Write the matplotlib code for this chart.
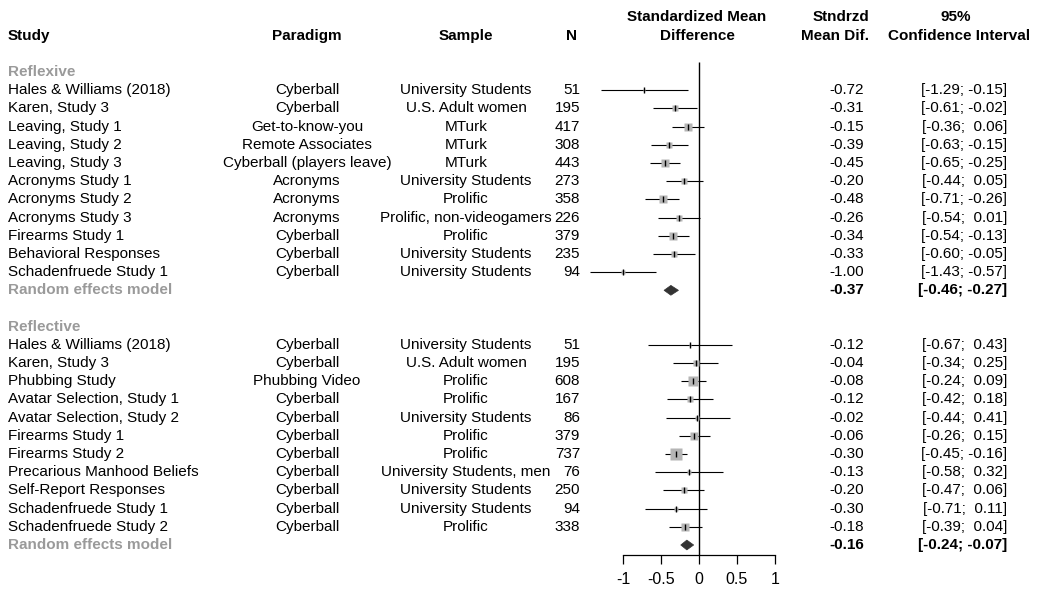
import numpy as np
import matplotlib.pyplot as plt
from matplotlib.transforms import blended_transform_factory
from matplotlib.patches import Polygon

plt.rcParams['font.family'] = ['Liberation Sans', 'DejaVu Sans']

# reflexive group
rx_study = ["Hales & Williams (2018)", "Karen, Study 3", "Leaving, Study 1", "Leaving, Study 2",
            "Leaving, Study 3", "Acronyms Study 1", "Acronyms Study 2", "Acronyms Study 3",
            "Firearms Study 1", "Behavioral Responses", "Schadenfruede Study 1"]
rx_paradigm = ["Cyberball", "Cyberball", "Get-to-know-you", "Remote Associates",
               "Cyberball (players leave)", "Acronyms", "Acronyms", "Acronyms",
               "Cyberball", "Cyberball", "Cyberball"]
rx_sample = ["University Students", "U.S. Adult women", "MTurk", "MTurk", "MTurk",
             "University Students", "Prolific", "Prolific, non-videogamers", "Prolific",
             "University Students", "University Students"]
rx_n = [51, 195, 417, 308, 443, 273, 358, 226, 379, 235, 94]
rx_smd = [-0.72, -0.31, -0.15, -0.39, -0.45, -0.20, -0.48, -0.26, -0.34, -0.33, -1.00]
rx_lo = [-1.29, -0.61, -0.36, -0.63, -0.65, -0.44, -0.71, -0.54, -0.54, -0.60, -1.43]
rx_hi = [-0.15, -0.02, 0.06, -0.15, -0.25, 0.05, -0.26, 0.01, -0.13, -0.05, -0.57]
rx_re = (-0.37, -0.46, -0.27)

# reflective group
rf_study = ["Hales & Williams (2018)", "Karen, Study 3", "Phubbing Study", "Avatar Selection, Study 1",
            "Avatar Selection, Study 2", "Firearms Study 1", "Firearms Study 2",
            "Precarious Manhood Beliefs", "Self-Report Responses", "Schadenfruede Study 1",
            "Schadenfruede Study 2"]
rf_paradigm = ["Cyberball", "Cyberball", "Phubbing Video", "Cyberball", "Cyberball", "Cyberball",
               "Cyberball", "Cyberball", "Cyberball", "Cyberball", "Cyberball"]
rf_sample = ["University Students", "U.S. Adult women", "Prolific", "Prolific", "University Students",
             "Prolific", "Prolific", "University Students, men", "University Students",
             "University Students", "Prolific"]
rf_n = [51, 195, 608, 167, 86, 379, 737, 76, 250, 94, 338]
rf_smd = [-0.12, -0.04, -0.08, -0.12, -0.02, -0.06, -0.30, -0.13, -0.20, -0.30, -0.18]
rf_lo = [-0.67, -0.34, -0.24, -0.42, -0.44, -0.26, -0.45, -0.58, -0.47, -0.71, -0.39]
rf_hi = [0.43, 0.25, 0.09, 0.18, 0.41, 0.15, -0.16, 0.32, 0.06, 0.11, 0.04]
rf_re = (-0.16, -0.24, -0.07)

ticks = [-1, -0.5, 0, 0.5, 1]
tick_labels = ["-1", "-0.5", "0", "0.5", "1"]

W, H = 1037, 592
fig = plt.figure(figsize=(W / 100, H / 100), dpi=100)
ax = fig.add_axes([0, (H - 555) / H, 1, 555 / H])
ax.set_xlim(-699 / 76, (W - 699) / 76)
ax.set_ylim(26.55, -3.96)
for s in ['top', 'left', 'right']:
    ax.spines[s].set_visible(False)
ax.spines['bottom'].set_bounds(-1, 1)
ax.spines['bottom'].set_linewidth(0.9)
ax.set_yticks([])
ax.set_xticks(ticks)
ax.set_xticklabels(tick_labels, fontsize=11.5)
ax.tick_params(axis='x', length=6.5, width=0.9, pad=6)

tr = blended_transform_factory(ax.transAxes, ax.transData)
fs = 11
grey = '#9a9a9a'


def col(px):
    return px / W


# headers
hdr = dict(transform=tr, fontsize=fs, fontweight='bold', va='center')
ax.text(col(8), -2, "Study", ha='left', **hdr)
ax.text(col(307), -2, "Paradigm", ha='center', **hdr)
ax.text(col(466), -2, "Sample", ha='center', **hdr)
ax.text(col(577), -2, "N", ha='right', **hdr)
ax.text(col(697), -3, "Standardized Mean", ha='center', **hdr)
ax.text(col(697), -2, "Difference", ha='center', **hdr)
ax.text(col(869), -3, "Stndrzd", ha='right', **hdr)
ax.text(col(869), -2, "Mean Dif.", ha='right', **hdr)
ax.text(col(956), -3, "95%", ha='center', **hdr)
ax.text(col(959), -2, "Confidence Interval", ha='center', **hdr)

ax.vlines(0, -0.55, 26.55, color='black', lw=1.0, zorder=1)

all_lo = np.array(rx_lo + rf_lo)
all_hi = np.array(rx_hi + rf_hi)
w_all = 1 / ((all_hi - all_lo) / 3.92) ** 2
w_max = w_all.max()


def group(y0, name, study, paradigm, sample, n, smd, lo, hi, re):
    ax.text(col(8), y0, name, transform=tr, fontsize=fs, fontweight='bold', color=grey,
            va='center', ha='left')
    for i in range(len(study)):
        y = y0 + 1 + i
        ax.text(col(8), y, study[i], transform=tr, fontsize=fs, va='center', ha='left')
        ax.text(col(307), y, paradigm[i], transform=tr, fontsize=fs, va='center', ha='center')
        ax.text(col(466), y, sample[i], transform=tr, fontsize=fs, va='center', ha='center')
        ax.text(col(580), y, str(n[i]), transform=tr, fontsize=fs, va='center', ha='right')
        ax.text(col(864), y, "%.2f" % smd[i], transform=tr, fontsize=fs, va='center', ha='right')
        ax.text(col(1007), y, "[%5.2f; %5.2f]" % (lo[i], hi[i]), transform=tr, fontsize=fs,
                va='center', ha='right')
        ax.hlines(y, lo[i], hi[i], color='black', lw=0.8, zorder=2)
        w = 1 / ((hi[i] - lo[i]) / 3.92) ** 2
        side = 8.0 * np.sqrt(w / w_max)
        ax.plot(smd[i], y, marker='s', ms=side, color='#b5b5b5', mec='none', zorder=3)
        ax.plot(smd[i], y, marker='|', ms=4.5, mew=1.0, color='black', zorder=4)
    yr = y0 + 1 + len(study)
    ax.text(col(8), yr, "Random effects model", transform=tr, fontsize=fs, fontweight='bold',
            color=grey, va='center', ha='left')
    ax.text(col(864), yr, "%.2f" % re[0], transform=tr, fontsize=fs, fontweight='bold',
            va='center', ha='right')
    ax.text(col(1007), yr, "[%5.2f; %5.2f]" % (re[1], re[2]), transform=tr, fontsize=fs,
            fontweight='bold', va='center', ha='right')
    d = Polygon([[re[1], yr], [re[0], yr - 0.27], [re[2], yr], [re[0], yr + 0.27]],
                closed=True, facecolor='#333333', edgecolor='#333333', lw=0.5, zorder=5)
    ax.add_patch(d)


group(0, "Reflexive", rx_study, rx_paradigm, rx_sample, rx_n, rx_smd, rx_lo, rx_hi, rx_re)
group(14, "Reflective", rf_study, rf_paradigm, rf_sample, rf_n, rf_smd, rf_lo, rf_hi, rf_re)

fig.savefig("out.png", dpi=100)
